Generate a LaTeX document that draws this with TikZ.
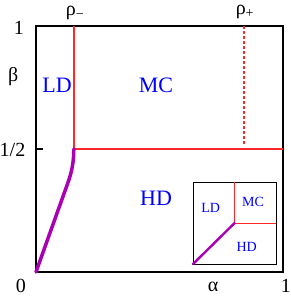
\documentclass[tikz,border=0pt]{standalone}
\usepackage{fontspec}
\setmainfont{Liberation Serif}
\usepackage{xcolor}
\usetikzlibrary{calc}
\definecolor{trpurple}{RGB}{170,0,180}
\definecolor{trred}{RGB}{255,40,40}

\begin{document}
\begin{tikzpicture}[x=247pt,y=246pt,
  frame/.style={draw=black,line width=1.5pt},
  trans/.style={draw=trred,line width=1.5pt},
  cross/.style={draw=trpurple,line width=3.5pt,line cap=round},
  phase/.style={text=blue,font=\fontsize{22}{22}\selectfont,inner sep=0pt},
  axl/.style={font=\fontsize{20}{20}\selectfont,inner sep=0pt},
  minip/.style={text=blue,font=\fontsize{14}{14}\selectfont,inner sep=0pt}]
\useasboundingbox (-0.1457,-0.0976) rectangle (1.0324,1.1057);
% main diagram
\coordinate (o) at (0,0);
\coordinate (tr) at (1,1);
\coordinate (mtop) at (0.153,1);
\coordinate (mmid) at (0.153,0.5);
\coordinate (rmid) at (1,0.5);
\coordinate (ptop) at (0.842,1);
\coordinate (pmid) at (0.842,0.515);
\draw[frame] (o) rectangle (tr);
\draw[frame,line width=1.2pt] (0,0.5) -- ++(0.028,0);
\draw[trans] (mtop) -- (mmid);
\draw[trans] (mmid) -- (rmid);
\draw[trans,dash pattern=on 3pt off 2pt] (ptop) -- (pmid);
\draw[cross] (o) -- (0.13,0.365) .. controls (0.146,0.41) and (0.153,0.45) .. (mmid);
\node[phase] (ld) at (0.085,0.76) {LD};
\node[phase] (mc) at (0.486,0.76) {MC};
\node[phase] (hd) at (0.486,0.301) {HD};
% axes
\node[axl] (b1) at (-0.069,0.992) {1};
\node[axl] (bh) at (-0.095,0.496) {1/2};
\node[axl] (bb) at (-0.0923,0.793) {β};
\node[axl] (a0) at (-0.061,-0.057) {0};
\node[axl] (aa) at (0.717,-0.06) {α};
\node[axl] (a1) at (1.012,-0.057) {1};
\node[axl] (rm) at (0.158,1.053) {ρ\textsubscript{−}};
\node[axl] (rp) at (0.846,1.057) {ρ\textsubscript{+}};
% inset
\coordinate (io) at (0.636,0.0325);
\coordinate (itr) at (0.972,0.366);
\coordinate (ic) at (0.804,0.199);
\draw[frame,line width=0.8pt,fill=white] (io) rectangle (itr);
\draw[trans,line width=0.8pt] (ic|-itr) -- (ic) -- (itr|-ic);
\draw[cross,line width=2.4pt] (io) -- (ic);
\node[minip] (ild) at (0.707,0.259) {LD};
\node[minip] (imc) at (0.879,0.285) {MC};
\node[minip] (ihd) at (0.853,0.102) {HD};
\end{tikzpicture}
\end{document}
